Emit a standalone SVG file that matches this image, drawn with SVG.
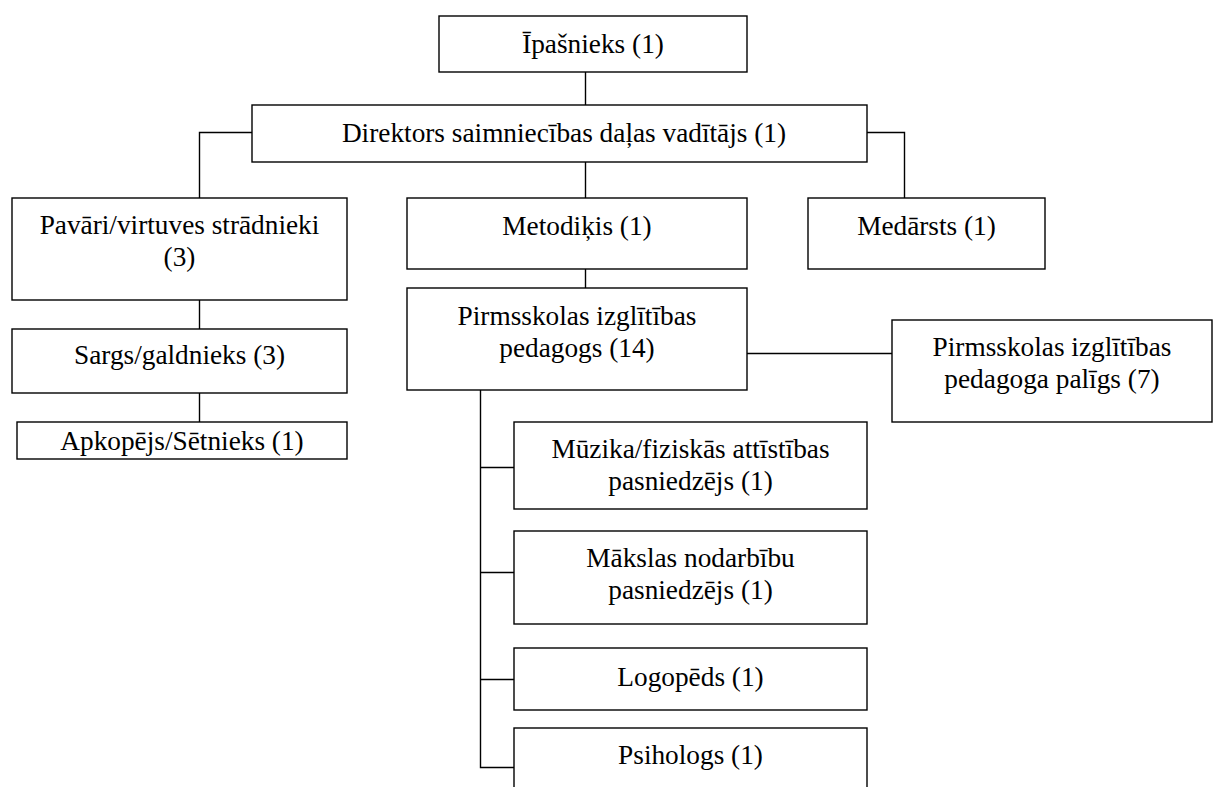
<svg xmlns="http://www.w3.org/2000/svg" width="1213" height="787" viewBox="0 0 1213 787">
<style>
.box{fill:#fff;stroke:#000;stroke-width:1.4}
.t{font-family:"Liberation Serif","Times New Roman",serif;font-size:27.3px;fill:#000;text-anchor:middle}
.c{fill:none;stroke:#000;stroke-width:1.4}
</style>
<rect width="1213" height="787" fill="#fff"/>
<g id="connectors">
<path class="c" d="M585.5,72 V105"/>
<path class="c" d="M252,132.5 H199.5 V198"/>
<path class="c" d="M867,132.5 H904.5 V198"/>
<path class="c" d="M585.5,162 V198"/>
<path class="c" d="M585.5,269 V288"/>
<path class="c" d="M747,353.5 H892"/>
<path class="c" d="M199.5,300 V329"/>
<path class="c" d="M199.5,393 V422"/>
<path class="c" d="M480.5,390 V767.5 H514"/>
<path class="c" d="M480.5,467.5 H514"/>
<path class="c" d="M480.5,572.5 H514"/>
<path class="c" d="M480.5,679.5 H514"/>
</g>
<g id="ipasnieks">
<rect class="box" x="439" y="16" width="308" height="56"/>
<text class="t" x="593" y="53">Īpašnieks (1)</text>
</g>
<g id="direktors">
<rect class="box" x="252" y="105" width="615" height="57"/>
<text class="t" x="564" y="142">Direktors saimniecības daļas vadītājs (1)</text>
</g>
<g id="pavari">
<rect class="box" x="12" y="198" width="335" height="102"/>
<text class="t" x="179.5" y="234">Pavāri/virtuves strādnieki</text>
<text class="t" x="179.5" y="266">(3)</text>
</g>
<g id="metodikis">
<rect class="box" x="407" y="198" width="340" height="71"/>
<text class="t" x="577" y="235">Metodiķis (1)</text>
</g>
<g id="medarsts">
<rect class="box" x="808" y="198" width="237" height="71"/>
<text class="t" x="926.5" y="235">Medārsts (1)</text>
</g>
<g id="sargs">
<rect class="box" x="12" y="329" width="335" height="64"/>
<text class="t" x="179.5" y="364">Sargs/galdnieks (3)</text>
</g>
<g id="apkopejs">
<rect class="box" x="17" y="422" width="330" height="37"/>
<text class="t" x="182" y="450">Apkopējs/Sētnieks (1)</text>
</g>
<g id="pedagogs">
<rect class="box" x="407" y="288" width="340" height="102"/>
<text class="t" x="577" y="325">Pirmsskolas izglītības</text>
<text class="t" x="577" y="357">pedagogs  (14)</text>
</g>
<g id="paligs">
<rect class="box" x="892" y="320" width="320" height="102"/>
<text class="t" x="1052" y="356">Pirmsskolas izglītības</text>
<text class="t" x="1052" y="388">pedagoga palīgs (7)</text>
</g>
<g id="muzika">
<rect class="box" x="514" y="422" width="353" height="87"/>
<text class="t" x="690.5" y="458">Mūzika/fiziskās attīstības</text>
<text class="t" x="690.5" y="490">pasniedzējs (1)</text>
</g>
<g id="maksla">
<rect class="box" x="514" y="531" width="353" height="93"/>
<text class="t" x="690.5" y="567">Mākslas nodarbību</text>
<text class="t" x="690.5" y="599">pasniedzējs (1)</text>
</g>
<g id="logopeds">
<rect class="box" x="514" y="648" width="353" height="62"/>
<text class="t" x="690.5" y="686">Logopēds (1)</text>
</g>
<g id="psihologs">
<rect class="box" x="514" y="728" width="353" height="80"/>
<text class="t" x="690.5" y="764">Psihologs (1)</text>
</g>
</svg>
